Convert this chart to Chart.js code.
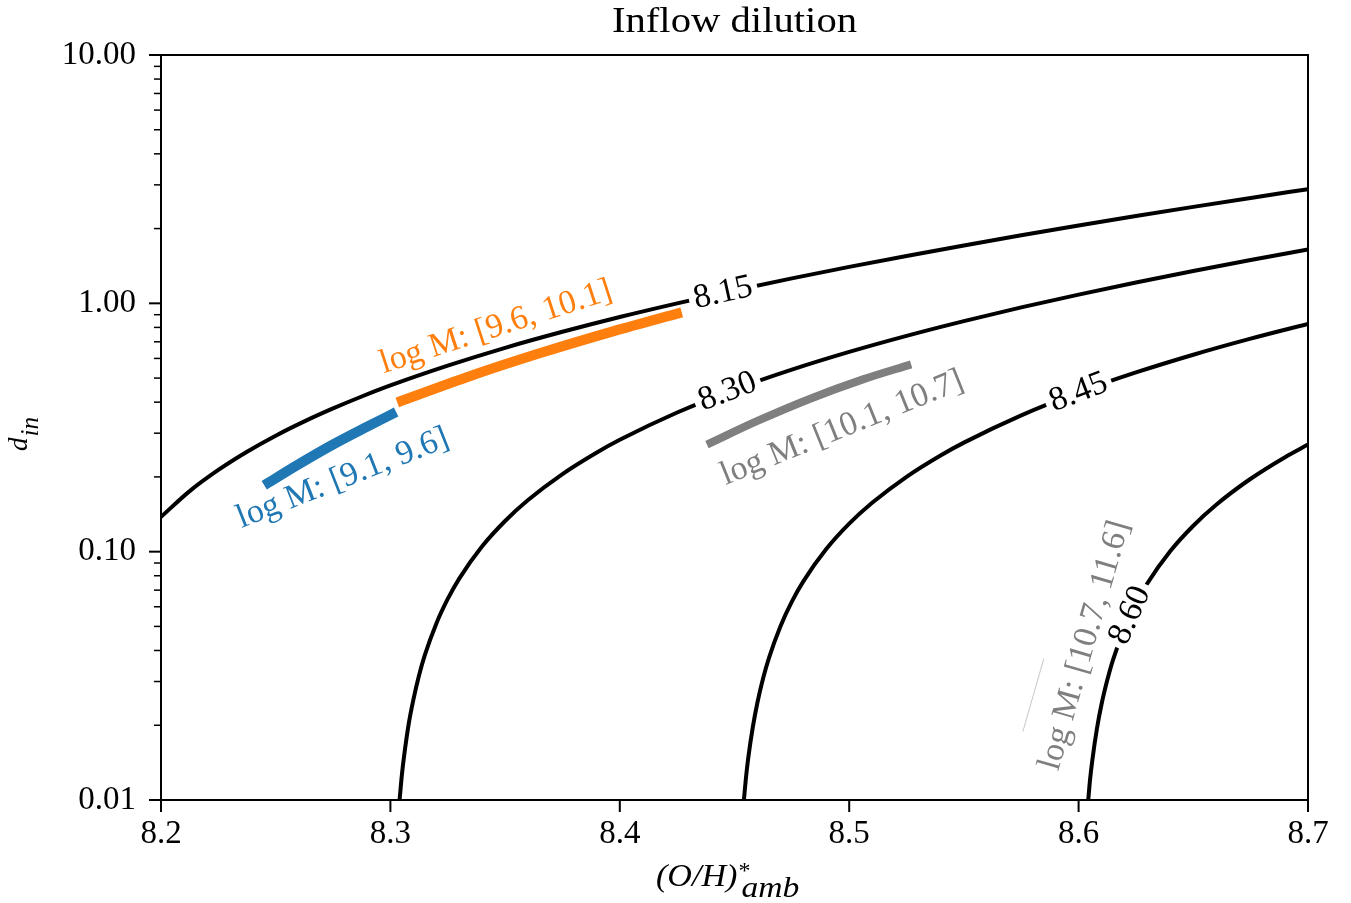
<!DOCTYPE html>
<html>
<head>
<meta charset="utf-8">
<script src="https://cdn.jsdelivr.net/npm/chart.js@4/dist/chart.umd.min.js"></script>
<style>
  html, body { margin: 0; background: #fff; }
</style>
</head>
<body>
<canvas id="chart" width="1351" height="903"></canvas>
<script>
// ticks
const xTicks = [8.2, 8.3, 8.4, 8.5, 8.6, 8.7];
const yTicks = [0.01, 0.1, 1, 10];

// contour levels and their lines
const levels = ['8.15', '8.30', '8.45', '8.60'];

const c815X = [8.2, 8.2125, 8.225, 8.2375, 8.25, 8.2625, 8.275, 8.2875, 8.3, 8.325, 8.35, 8.375, 8.4, 8.425,
    8.45, 8.475, 8.5, 8.525, 8.55, 8.575, 8.6, 8.625, 8.65, 8.675, 8.7];
const c815Y = [0.138, 0.1753, 0.2133, 0.2525, 0.293, 0.3346, 0.3773, 0.4215, 0.467, 0.561, 0.662, 0.768, 0.881, 1.000,
    1.126, 1.260, 1.402, 1.552, 1.711, 1.879, 2.057, 2.246, 2.446, 2.658, 2.883];

const c830X = [8.304, 8.305, 8.306, 8.308, 8.31, 8.3125, 8.315, 8.32, 8.325, 8.33, 8.34, 8.35, 8.36,
    8.375, 8.39, 8.4, 8.425, 8.45, 8.475, 8.5, 8.525, 8.55, 8.575, 8.6, 8.625, 8.65, 8.675, 8.7];
const c830Y = [0.0100, 0.0126, 0.0151, 0.0203, 0.0253, 0.0318, 0.0383, 0.0513, 0.0645, 0.0779, 0.1051, 0.1329, 0.1614,
    0.2054, 0.2509, 0.2821, 0.3634, 0.4495, 0.5407, 0.6373, 0.7396, 0.8479, 0.9628, 1.0844, 1.2132, 1.3496, 1.4941, 1.6472];

const c845X = [8.4541, 8.455, 8.456, 8.458, 8.46, 8.4625, 8.465, 8.47, 8.475, 8.48, 8.49, 8.5, 8.51,
    8.525, 8.54, 8.55, 8.575, 8.6, 8.625, 8.65, 8.675, 8.7];
const c845Y = [0.0100, 0.0123, 0.0148, 0.0197, 0.0247, 0.0310, 0.0373, 0.0500, 0.0629, 0.0759, 0.1024, 0.1296, 0.1573,
    0.2002, 0.2445, 0.2749, 0.3541, 0.4380, 0.5269, 0.6210, 0.7207, 0.8264];

const c860X = [8.6042, 8.605, 8.606, 8.608, 8.61, 8.6125, 8.615, 8.62, 8.625, 8.63, 8.64, 8.65, 8.66,
    8.675, 8.69, 8.7];
const c860Y = [0.0100, 0.0121, 0.0145, 0.0194, 0.0243, 0.0304, 0.0367, 0.0491, 0.0618, 0.0746, 0.1006, 0.1272, 0.1545,
    0.1966, 0.2402, 0.2700];

// mass bins
const binLabels = ['log M: [9.1, 9.6]', 'log M: [9.6, 10.1]', 'log M: [10.1, 10.7]', 'log M: [10.7, 11.6]'];

const blueX = [8.245, 8.259, 8.274, 8.290, 8.3025];
const blueY = [0.185, 0.222, 0.267, 0.319, 0.365];

const orangeX = [8.303, 8.333, 8.365, 8.397, 8.427];
const orangeY = [0.399, 0.503, 0.629, 0.771, 0.920];

const grayX = [8.438, 8.460, 8.483, 8.506, 8.527];
const grayY = [0.270, 0.336, 0.413, 0.494, 0.568];

const BLUE = '#1f77b4', ORANGE = '#ff7f0e', GRAY = '#7f7f7f';
const binColors = [BLUE, ORANGE, GRAY, GRAY];
const SERIF = '"Liberation Serif", "DejaVu Serif", serif';

// where the inline labels sit: [x, y, angle in degrees]
const levelPos = [[8.445, 1.10, -12.5], [8.447, 0.44, -21], [8.600, 0.437, -21], [8.6225, 0.0554, -66]];
const binPos = [[8.2793, 0.197, -21.5], [8.346, 0.80, -18], [8.4969, 0.314, -22], [8.6028, 0.0419, -74]];

const pts = (xs, ys) => xs.map((v, i) => ({ x: v, y: ys[i] }));

const contour = (xs, ys) => ({
    data: pts(xs, ys),
    borderColor: '#000',
    borderWidth: 4,
    pointRadius: 0,
    cubicInterpolationMode: 'monotone',
});

const band = (xs, ys, color, w) => ({
    data: pts(xs, ys),
    borderColor: color,
    borderWidth: w,
    borderCapStyle: 'butt',
    pointRadius: 0,
    cubicInterpolationMode: 'monotone',
});

function text(ctx, s, x, y, opt) {
    ctx.save();
    ctx.translate(x, y);
    ctx.rotate((opt.angle || 0) * Math.PI / 180);
    ctx.scale(opt.sx || 1, 1);
    ctx.font = opt.font;
    ctx.fillStyle = opt.color || '#000';
    ctx.textAlign = opt.align || 'center';
    ctx.textBaseline = opt.baseline || 'middle';
    ctx.fillText(s, 0, 0);
    ctx.restore();
}

const decor = {
    id: 'decor',
    beforeDraw(chart) {
        const ctx = chart.ctx;
        ctx.save();
        ctx.fillStyle = '#fff';
        ctx.fillRect(0, 0, chart.width, chart.height);
        ctx.restore();
    },
    afterDatasetsDraw(chart) {
        const { ctx, chartArea: a, scales: { x, y } } = chart;

        // contour labels, with the line cut under them
        levels.forEach((lv, i) => {
            const [vx, vy, ang] = levelPos[i];
            const px = x.getPixelForValue(vx), py = y.getPixelForValue(vy);
            ctx.save();
            ctx.font = '34px ' + SERIF;
            const w = ctx.measureText(lv).width;
            ctx.translate(px, py);
            ctx.rotate(ang * Math.PI / 180);
            ctx.fillStyle = '#fff';
            ctx.fillRect(-w / 2 - 5, -7, w + 10, 14);
            ctx.restore();
            text(ctx, lv, px, py, { font: '34px ' + SERIF, angle: ang });
        });

        // mass bin labels
        binLabels.forEach((s, i) => {
            const [vx, vy, ang] = binPos[i];
            text(ctx, s, x.getPixelForValue(vx), y.getPixelForValue(vy),
                { font: '34px ' + SERIF, color: binColors[i], angle: ang });
        });
        // stray rule above the last bin label
        {
            const [vx, vy, ang] = binPos[3];
            ctx.save();
            ctx.translate(x.getPixelForValue(vx), y.getPixelForValue(vy));
            ctx.rotate(ang * Math.PI / 180);
            ctx.strokeStyle = '#c8c8c8';
            ctx.lineWidth = 1;
            ctx.beginPath();
            ctx.moveTo(-100, -36);
            ctx.lineTo(-24, -36);
            ctx.stroke();
            ctx.restore();
        }

        // frame
        ctx.save();
        ctx.strokeStyle = '#000';
        ctx.lineWidth = 2;
        ctx.strokeRect(a.left, a.top, a.right - a.left, a.bottom - a.top);

        // tick marks
        xTicks.forEach(v => {
            const px = x.getPixelForValue(v);
            ctx.beginPath();
            ctx.moveTo(px, a.bottom);
            ctx.lineTo(px, a.bottom + 12);
            ctx.stroke();
        });
        y.ticks.forEach(t => {
            const major = yTicks.includes(t.value);
            const py = y.getPixelForValue(t.value);
            ctx.lineWidth = major ? 2 : 1.5;
            ctx.beginPath();
            ctx.moveTo(a.left - (major ? 12 : 7), py);
            ctx.lineTo(a.left, py);
            ctx.stroke();
        });
        ctx.restore();

        // title
        text(ctx, 'Inflow dilution', (a.left + a.right) / 2, 32,
            { font: '36px ' + SERIF, baseline: 'alphabetic', sx: 1.13 });

        // x label: (O/H)*_amb
        const xl = 656;
        ctx.save();
        ctx.font = 'italic 31px ' + SERIF;
        const wMain = ctx.measureText('(O/H)').width * 1.1;
        ctx.restore();
        text(ctx, '(O/H)', xl, 886, { font: 'italic 31px ' + SERIF, align: 'left', baseline: 'alphabetic', sx: 1.1 });
        text(ctx, '*', xl + wMain + 1, 878, { font: '24px ' + SERIF, align: 'left', baseline: 'alphabetic' });
        text(ctx, 'amb', xl + wMain + 4, 897, { font: 'italic 30px ' + SERIF, align: 'left', baseline: 'alphabetic', sx: 1.12 });

        // y label: d_in
        ctx.save();
        ctx.translate(27, 451);
        ctx.rotate(-Math.PI / 2);
        ctx.font = 'italic 27px ' + SERIF;
        ctx.fillStyle = '#000';
        ctx.textBaseline = 'alphabetic';
        ctx.fillText('d', 0, 0);
        const dw = ctx.measureText('d').width;
        ctx.font = 'italic 25px ' + SERIF;
        ctx.fillText('in', dw + 1, 11);
        ctx.restore();
    },
};

Chart.defaults.font.family = SERIF;
Chart.defaults.font.size = 33;
Chart.defaults.color = '#000';

new Chart(document.getElementById('chart'), {
    type: 'line',
    data: {
        datasets: [
            contour(c815X, c815Y),
            contour(c830X, c830Y),
            contour(c845X, c845Y),
            contour(c860X, c860Y),
            band(blueX, blueY, BLUE, 10),
            band(orangeX, orangeY, ORANGE, 10),
            band(grayX, grayY, GRAY, 8),
        ],
    },
    options: {
        responsive: false,
        animation: false,
        events: [],
        layout: { padding: { top: 55, right: 43, left: 0, bottom: 0 } },
        plugins: { legend: { display: false }, tooltip: { enabled: false } },
        scales: {
            x: {
                type: 'linear',
                min: 8.2,
                max: 8.7,
                grid: { display: false, drawTicks: false },
                border: { display: false },
                afterBuildTicks: s => { s.ticks = xTicks.map(v => ({ value: v })); },
                afterFit: s => { s.height = 103; },
                ticks: {
                    autoSkip: false,
                    maxRotation: 0,
                    padding: 15,
                    callback: v => v.toFixed(1),
                },
            },
            y: {
                type: 'logarithmic',
                min: 0.01,
                max: 10,
                grid: { display: false, drawTicks: false },
                border: { display: false },
                afterBuildTicks: s => {
                    const t = [];
                    yTicks.forEach((v, i) => {
                        t.push({ value: v, major: true });
                        if (i < yTicks.length - 1) {
                            for (let k = 2; k < 10; k++) t.push({ value: v * k });
                        }
                    });
                    s.ticks = t;
                },
                afterFit: s => { s.width = 161; },
                ticks: {
                    autoSkip: false,
                    padding: 25,
                    callback: v => (yTicks.includes(v) ? v.toFixed(2) : ''),
                },
            },
        },
    },
    plugins: [decor],
});
</script>
</body>
</html>
